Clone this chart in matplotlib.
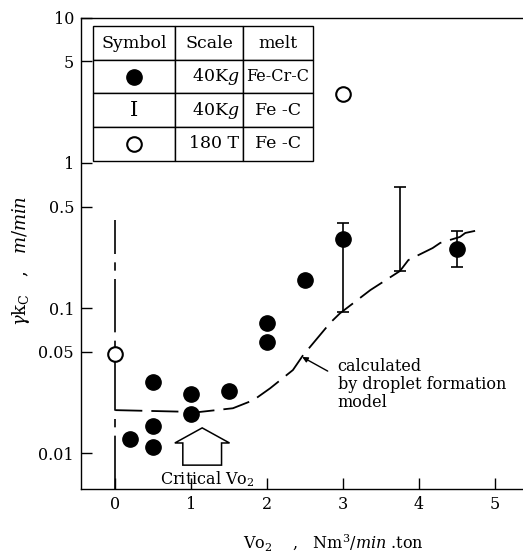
import matplotlib.pyplot as plt
from matplotlib.table import Table
from matplotlib.patches import FancyArrow
from matplotlib.ticker import NullLocator

plt.rcParams['font.family'] = ['DejaVu Serif']
plt.rcParams['mathtext.fontset'] = 'dejavuserif'

# filled circles : Fe-Cr-C melt, 40 kg
crc_x = [0.2, 0.5, 0.5, 0.5, 1.0, 1.0, 1.5, 2.0, 2.0, 2.5, 3.0, 4.5]
crc_y = [0.0125, 0.031, 0.0154, 0.011, 0.0255, 0.0186, 0.0268, 0.079, 0.058, 0.156, 0.30, 0.255]
# scatter range on two of the filled circles
crc_bar_x = [3.0, 4.5]
crc_bar_lo = [0.094, 0.192]
crc_bar_hi = [0.386, 0.34]

# I bar : Fe-C melt, 40 kg
fec_bar_x = [3.75]
fec_bar_lo = [0.18]
fec_bar_hi = [0.68]

# open circles : Fe-C melt, 180 T
big_x = [0.0, 3.0]
big_y = [0.048, 3.0]
big_range_top = 0.405

# calculated by droplet formation model
model_x = [0.0, 1.1, 1.55, 1.82, 2.04, 2.34, 2.47, 2.83, 2.96, 3.36, 3.75, 3.86, 4.18, 4.28, 4.54, 4.61, 4.85]
model_y = [0.0198, 0.0192, 0.0204, 0.0232, 0.028, 0.0374, 0.047, 0.079, 0.092, 0.133, 0.18, 0.214, 0.259, 0.281, 0.309, 0.329, 0.35]

x_ticks = [0, 1, 2, 3, 4, 5]
y_ticks = [0.01, 0.05, 0.1, 0.5, 1, 5, 10]
y_tick_labels = ['0.01', '0.05', '0.1', '0.5', '1', '5', '10']

table_header = ['Symbol', 'Scale', 'melt']
table_scale = ['40K$\\it{g}$', '40K$\\it{g}$', '180 T']
table_melt = ['Fe-Cr-C', 'Fe -C', 'Fe -C']

x_lim = (-0.45, 5.37)
y_lim = (0.00565, 10)


def main():
    fig = plt.figure(figsize=(5.23, 5.54), dpi=100)
    ax = fig.add_axes([0.155, 0.117, 0.845, 0.851])
    ax.set_yscale('log')
    ax.set_xlim(*x_lim)
    ax.set_ylim(*y_lim)

    # model curve and the 180 T range line at x = 0
    ax.plot(model_x, model_y, color='k', lw=1.3, dashes=(15, 5))
    ax.plot([0, 0], [y_lim[0], big_range_top], color='k', lw=1.2,
            ls=(0, (32, 5, 5, 5)), zorder=2)

    # filled circles with scatter bars
    ax.errorbar(crc_bar_x, crc_bar_hi,
                yerr=[[h - l for h, l in zip(crc_bar_hi, crc_bar_lo)], [0] * len(crc_bar_x)],
                fmt='none', ecolor='k', elinewidth=1.2, capsize=4.5, capthick=1.2)
    ax.plot(crc_x, crc_y, 'o', color='k', ms=11, zorder=3)

    # I bar
    ax.errorbar(fec_bar_x, fec_bar_hi,
                yerr=[[h - l for h, l in zip(fec_bar_hi, fec_bar_lo)], [0]],
                fmt='none', ecolor='k', elinewidth=1.2, capsize=4, capthick=1.2)

    # open circles
    ax.plot(big_x, big_y, 'o', mfc='white', mec='k', mew=1.5, ms=10.5, zorder=4)

    # ticks
    ax.set_xticks(x_ticks)
    ax.set_yticks(y_ticks)
    ax.set_yticklabels(y_tick_labels)
    ax.yaxis.set_minor_locator(NullLocator())
    ax.tick_params(direction='in', length=8, width=1, labelsize=11.5, pad=5)
    ax.spines['right'].set_visible(False)
    for s in ['left', 'bottom', 'top']:
        ax.spines[s].set_linewidth(1)

    ax.set_xlabel(r'Vo$_2$    ,   Nm$^3$/$min$ .ton', fontsize=11.5)
    ax.xaxis.set_label_coords(0.57, -0.093)
    ax.set_ylabel(r'$\gamma$k$_{\rm C}$   ,   $m$/$min$', fontsize=13)
    ax.yaxis.set_label_coords(-0.11, 0.484)

    # legend table
    tbl = Table(ax, bbox=[0.027, 0.697, 0.498, 0.285])
    widths = [0.373, 0.309, 0.318]
    h = 1.0 / 4
    for c, txt in enumerate(table_header):
        tbl.add_cell(0, c, widths[c], h, text=txt, loc='center')
    for r in range(3):
        tbl.add_cell(r + 1, 0, widths[0], h, text='I' if r == 1 else '', loc='center')
        tbl.add_cell(r + 1, 1, widths[1], h, text=table_scale[r], loc='right')
        tbl.add_cell(r + 1, 2, widths[2], h, text=table_melt[r], loc='center')
    tbl.auto_set_font_size(False)
    tbl.set_fontsize(12.5)
    for cell in tbl.get_celld().values():
        cell.set_linewidth(1)
        cell.PAD = 0.06
    tbl.get_celld()[(2, 0)].get_text().set_fontsize(15)
    tbl.get_celld()[(1, 2)].get_text().set_fontsize(11.5)
    ax.add_table(tbl)

    sym_x = 0.027 + widths[0] * 0.498 / 2
    row_h = 0.285 / 4
    ax.plot([sym_x], [0.697 + row_h * 2.5], 'o', color='k', ms=11, transform=ax.transAxes, clip_on=False)
    ax.plot([sym_x], [0.697 + row_h * 0.5], 'o', mfc='white', mec='k', mew=1.5, ms=10.5,
            transform=ax.transAxes, clip_on=False)

    # annotation for model curve
    ax.annotate('', xy=(2.43, 0.047), xytext=(2.83, 0.036),
                arrowprops=dict(arrowstyle='-|>', color='k', lw=1, mutation_scale=8))
    ax.text(2.93, 0.0455, 'calculated\nby droplet formation\nmodel', fontsize=11.5,
            ha='left', va='top', linespacing=1.1)

    # critical Vo2 arrow
    trans = ax.get_xaxis_transform()
    ax.add_patch(FancyArrow(1.145, 0.051, 0, 0.079, width=0.51, head_width=0.72,
                            head_length=0.032, length_includes_head=True,
                            transform=trans, fc='white', ec='k', lw=1.1))
    ax.text(1.21, 0.022, 'Critical Vo$_2$', transform=trans, fontsize=11.5,
            ha='center', va='center')

    fig.savefig('out.png', dpi=100)


if __name__ == "__main__":
    main()
